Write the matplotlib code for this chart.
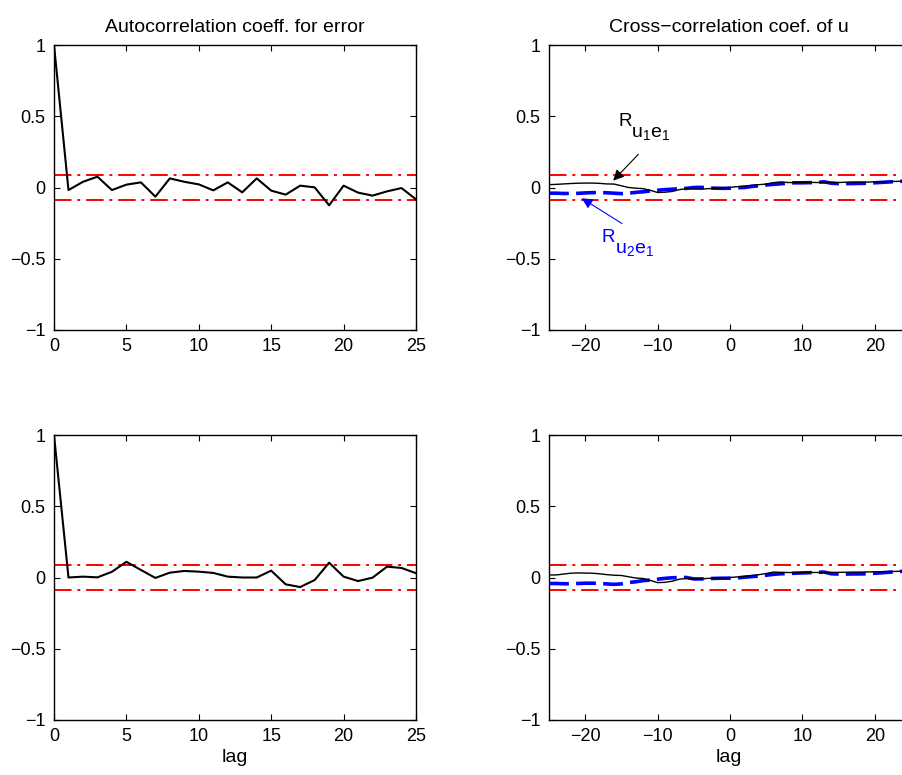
import numpy as np
import matplotlib
matplotlib.use("Agg")
import matplotlib.pyplot as plt

plt.rcParams["font.family"] = ["Liberation Sans", "DejaVu Sans"]
plt.rcParams["mathtext.fontset"] = "custom"
plt.rcParams["mathtext.rm"] = "Liberation Sans"
plt.rcParams["mathtext.it"] = "Liberation Sans"

# confidence bound for the correlation estimates
conf = 0.087

# autocorrelation of the residuals, lags 0..25
auto_lags = list(range(26))
auto_e1 = [1.0, -0.018, 0.04, 0.076, -0.018, 0.02, 0.036, -0.064, 0.064, 0.04,
           0.022, -0.02, 0.036, -0.034, 0.064, -0.022, -0.05, 0.013, 0.001,
           -0.125, 0.013, -0.036, -0.057, -0.027, -0.004, -0.083]
auto_e2 = [1.0, 0.0, 0.006, 0.001, 0.04, 0.11, 0.053, -0.003, 0.034, 0.046,
           0.041, 0.032, 0.006, 0.0, 0.0, 0.048, -0.048, -0.067, -0.018,
           0.104, 0.006, -0.025, -0.001, 0.076, 0.067, 0.03]

# cross-correlation input/residual, lags -25..25
cross_lags = list(range(-25, 26))
r_u1e1_top = [0.02, 0.022, 0.025, 0.028, 0.030, 0.031, 0.031, 0.029, 0.025, 0.024,
              0.012, 0.0, -0.005, -0.008, -0.02, -0.035, -0.033, -0.028, -0.015,
              -0.008, -0.010, -0.012, -0.008, -0.006, -0.004, 0.001, 0.006, 0.010,
              0.016, 0.020, 0.024, 0.034, 0.039, 0.035, 0.034, 0.036, 0.036, 0.035,
              0.034, 0.036, 0.035, 0.037, 0.038, 0.038, 0.038, 0.040, 0.040, 0.042,
              0.043, 0.045, 0.046]
r_u2e1_top = [-0.040, -0.040, -0.042, -0.042, -0.041, -0.038, -0.036, -0.036, -0.037,
              -0.040, -0.043, -0.040, -0.034, -0.030, -0.024, -0.019, -0.015, -0.012,
              -0.009, -0.006, 0.0, 0.001, -0.003, -0.005, -0.006, -0.005, -0.002,
              0.0, 0.007, 0.012, 0.018, 0.022, 0.026, 0.030, 0.033, 0.033, 0.034,
              0.036, 0.040, 0.030, 0.027, 0.027, 0.028, 0.029, 0.030, 0.033, 0.036,
              0.039, 0.042, 0.044, 0.045]
r_u1e1_bot = [0.018, 0.018, 0.024, 0.030, 0.032, 0.031, 0.030, 0.026, 0.020, 0.016,
              0.014, 0.005, -0.004, -0.007, -0.02, -0.036, -0.034, -0.026, -0.012,
              -0.006, -0.010, -0.010, -0.006, -0.004, -0.003, 0.0, 0.004, 0.008,
              0.014, 0.020, 0.028, 0.038, 0.036, 0.035, 0.035, 0.036, 0.036, 0.035,
              0.035, 0.036, 0.036, 0.037, 0.038, 0.038, 0.039, 0.040, 0.041, 0.042,
              0.043, 0.045, 0.046]
r_u2e1_bot = [-0.042, -0.042, -0.044, -0.044, -0.042, -0.040, -0.040, -0.042, -0.045,
              -0.048, -0.045, -0.035, -0.030, -0.022, -0.018, -0.012, -0.006, -0.002,
              0.0, 0.0, -0.010, -0.010, -0.008, -0.006, -0.005, -0.005, -0.003,
              0.002, 0.006, 0.010, 0.016, 0.022, 0.026, 0.028, 0.030, 0.032, 0.034,
              0.036, 0.038, 0.026, 0.024, 0.024, 0.025, 0.025, 0.026, 0.030, 0.033,
              0.037, 0.041, 0.044, 0.046]


def style_axes(ax, xlim, xticks):
    ax.set_xlim(xlim)
    ax.set_ylim(-1, 1)
    ax.set_xticks(xticks)
    ax.set_yticks([-1, -0.5, 0, 0.5, 1])
    ax.set_yticklabels(["\u22121", "\u22120.5", "0", "0.5", "1"])
    ax.tick_params(direction="in", top=True, right=True, length=4,
                   labelsize=13, pad=6, width=0.8)
    for s in ax.spines.values():
        s.set_linewidth(1.0)


def conf_lines(ax, xlim):
    for c in (conf, -conf):
        ax.plot(xlim, [c, c], color="red", lw=1.4, ls=(0, (9, 3, 1.5, 3)))


def sub_label(ax, x, y, idx1, idx2, color):
    # "R" with large MATLAB-style subscripts: R, then u_i e_j one step lower
    kw = dict(color=color, va="baseline", ha="left", textcoords="offset points")
    ax.annotate("R", xy=(x, y), xytext=(0, 0), fontsize=13.5, **kw)
    ax.annotate(r"$\mathrm{u_{%s}e_{%s}}$" % (idx1, idx2), xy=(x, y),
                xytext=(9.2, -7.8), fontsize=14, **kw)


fig = plt.figure(figsize=(9.02, 7.75), dpi=100)
W, H = 902.0, 775.0
axw = 362 / W
axh = 285 / H
pos = {
    "tl": [54 / W, 1 - 330 / H, axw, axh],
    "tr": [549 / W, 1 - 330 / H, axw, axh],
    "bl": [54 / W, 1 - 720 / H, axw, axh],
    "br": [549 / W, 1 - 720 / H, axw, axh],
}
xc = (729.3 - 549) / 362

# autocorrelation panels
for key, vals in (("tl", auto_e1), ("bl", auto_e2)):
    ax = fig.add_axes(pos[key])
    conf_lines(ax, [0, 25])
    ax.plot(auto_lags, vals, color="black", lw=1.5)
    style_axes(ax, (0, 25), [0, 5, 10, 15, 20, 25])
    if key == "tl":
        ax.set_title("Autocorrelation coeff. for error", fontsize=14, pad=9)
    else:
        ax.set_xlabel("lag", fontsize=14, labelpad=3)

# cross-correlation panels
for key, v1, v2 in (("tr", r_u1e1_top, r_u2e1_top), ("br", r_u1e1_bot, r_u2e1_bot)):
    ax = fig.add_axes(pos[key])
    conf_lines(ax, [-25, 25])
    ax.plot(cross_lags, v2, color="blue", lw=2.6, ls=(0, (5.5, 2)))
    ax.plot(cross_lags, v1, color="black", lw=1.0)
    style_axes(ax, (-25, 25), [-20, -10, 0, 10, 20])
    if key == "tr":
        ax.set_title("Cross\u2212correlation coef. of u", fontsize=14, pad=9, x=xc)
        ax.annotate("", xy=(-16.4, 0.034), xytext=(-12.4, 0.247),
                    arrowprops=dict(arrowstyle="-|>", color="black", lw=0.8,
                                    mutation_scale=16))
        sub_label(ax, -15.4, 0.43, "1", "1", "black")
        ax.annotate("", xy=(-20.8, -0.065), xytext=(-14.6, -0.263),
                    arrowprops=dict(arrowstyle="-|>", color="blue", lw=0.8,
                                    mutation_scale=16))
        sub_label(ax, -17.7, -0.385, "2", "1", "blue")
    else:
        ax.set_xlabel("lag", fontsize=14, labelpad=3, x=xc)

fig.savefig("out.png", dpi=100)
